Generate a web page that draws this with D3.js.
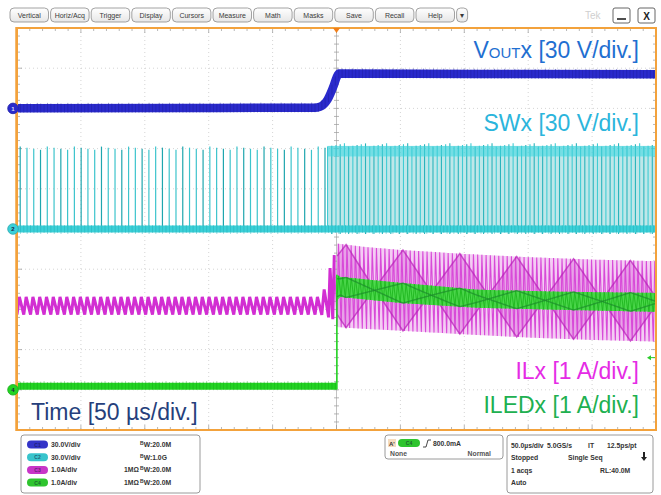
<!DOCTYPE html>
<html><head><meta charset="utf-8">
<script src="https://cdn.jsdelivr.net/npm/d3@7"></script>
<style>body{margin:0;background:#fff;} svg{display:block;font-family:"Liberation Sans",Arial,sans-serif;}</style>
</head><body><svg id="c" width="661" height="495"></svg>
<script>
// ---------------- DATA ----------------
const menuItems = ["Vertical","Horiz/Acq","Trigger","Display","Cursors","Measure","Math","Masks","Save","Recall","Help","\u25BE"];
const timeRange = [-250, 250];            // µs (50 µs/div, 10 div)
const divRange = [-5, 5];                 // vertical divisions
const channelIds = ["C1","C2","C3","C4"];
const channelOffsets = [3, 0, -4, -4];    // div
const channelScales = [30, 30, 1, 1];     // V/div, V/div, A/div, A/div
const channelScaleLabels = ["30.0V/div","30.0V/div","1.0A/div","1.0A/div"];
const channelImpedance = ["","","1M\u03A9","1M\u03A9"];
const channelBandwidth = ["20.0M","1.0G","20.0M","20.0M"];
// VOUTx (V)
const voutT = [-250, -120, -17, -13, -10, -7, -4.5, -2, 0, 1.8, 60, 150, 250];
const voutV = [0.2, 0.3, 0.5, 1.2, 3.0, 6.5, 11.5, 17.5, 23.0, 26.0, 25.9, 25.6, 25.4];
// SWx (V)
const swPeriodPre = 5.3;     // µs
const swPeriodPost = 3.3;    // µs
const swDenseStart = -7;     // µs
const swPeak = 61.5;         // V
const swPostTopBand = [62, 54]; // V
// ILx (A)
const ilxEnvT  = [-250, -12, -9, -6, -3, -0.5, 0.5, 20, 50, 100, 150, 200, 250];
const ilxEnvHi = [2.31, 2.31, 2.55, 2.95, 3.2, 3.5, 3.64, 3.56, 3.48, 3.38, 3.3, 3.24, 3.2];
const ilxEnvLo = [1.87, 1.87, 1.83, 1.8, 1.76, 1.72, 1.56, 1.52, 1.47, 1.38, 1.3, 1.24, 1.2];
// beat (alias) pattern vertices: time and fraction of envelope
const beatT    = [0.5, 7.5, 52, 96.5, 141, 185.5, 230, 250];
const beatFrac = [0.15, 0.0, 1.0, 0.0, 1.0, 0.0, 1.0, 0.55];
// ILEDx (A)
const iledPre = 0.09;
const iledEdgeT = 0.3;
const iledEnvT  = [0.3, 3, 50, 110, 175, 250];
const iledEnvHi = [2.86, 2.81, 2.66, 2.49, 2.44, 2.41];
const iledEnvLo = [2.22, 2.31, 2.16, 2.04, 1.99, 1.94];
const triggerLevel = 0.8; // A on C4
// texts
const labelTexts = {vout:["V","OUT","x [30 V/div.]"], sw:"SWx [30 V/div.]", ilx:"ILx [1 A/div.]", iled:"ILEDx [1 A/div.]", time:"Time [50 \u00B5s/div.]"};
const horizRows = [["50.0\u00B5s/div","5.0GS/s","IT","12.5ps/pt"],["Stopped","Single Seq"],["1 acqs","RL:40.0M"],["Auto"]];
const triggerTexts = ["800.0mA","None","Normal"];

// ---------------- LAYOUT ----------------
const svg = d3.select("#c");
const X0=17, X1=656, Y0=28, Y1=430;
const x = d3.scaleLinear().domain(timeRange).range([X0, X1]);
const yDiv = d3.scaleLinear().domain(divRange).range([Y1, Y0]);
const yCh = (ci, v) => yDiv(v / channelScales[ci] + channelOffsets[ci]);
const colors = {c1:"#2a2acc", c2:"#3ad0d8", c3:"#d22ed2", c4:"#22d422", orange:"#f3a23c"};

const defs = svg.append("defs");
const g1 = defs.append("linearGradient").attr("id","btn").attr("x1",0).attr("x2",0).attr("y1",0).attr("y2",1);
g1.append("stop").attr("offset","0").attr("stop-color","#ffffff");
g1.append("stop").attr("offset","1").attr("stop-color","#e6e6e6");
defs.append("clipPath").attr("id","plotclip").append("rect").attr("x",X0+1).attr("y",Y0+1).attr("width",X1-X0-2).attr("height",Y1-Y0-2);

// toolbar
const tb = svg.append("g");
menuItems.forEach((m,i)=>{
  const last = i===menuItems.length-1;
  const bx = 10 + i*40.6, bw = last ? 11 : 38.5;
  tb.append("rect").attr("x",bx).attr("y",8).attr("width",bw).attr("height",14).attr("rx",4)
    .attr("fill","url(#btn)").attr("stroke","#8c8c8c").attr("stroke-width",0.8);
  tb.append("text").attr("x",bx+bw/2).attr("y",17.6).attr("text-anchor","middle")
    .attr("font-size", last?8:7).attr("fill","#3a3a3a").text(m);
});
tb.append("text").attr("x",585).attr("y",19).attr("font-size",10).attr("fill","#cfcfcf").text("Tek");
tb.append("rect").attr("x",613).attr("y",8).attr("width",17).attr("height",15).attr("rx",2).attr("fill","#fff").attr("stroke","#555").attr("stroke-width",0.9);
tb.append("line").attr("x1",617).attr("x2",626).attr("y1",19).attr("y2",19).attr("stroke","#222").attr("stroke-width",1.6);
tb.append("rect").attr("x",638).attr("y",8).attr("width",17).attr("height",15).attr("rx",2).attr("fill","#fff").attr("stroke","#555").attr("stroke-width",0.9);
tb.append("text").attr("x",646.5).attr("y",19.5).attr("text-anchor","middle").attr("font-size",10).attr("font-weight","bold").attr("fill","#222").text("X");

// plot frame & grid
svg.append("rect").attr("x",X0).attr("y",Y0).attr("width",X1-X0).attr("height",Y1-Y0).attr("fill","#fff");
const grid = svg.append("g");
const dx = (X1-X0)/10, dy = (Y1-Y0)/10;
for(let k=1;k<10;k++){
  if(k!==5){
    grid.append("line").attr("x1",X0+k*dx).attr("x2",X0+k*dx).attr("y1",Y0).attr("y2",Y1)
      .attr("stroke","#c9c9c9").attr("stroke-width",0.8).attr("stroke-dasharray","1,3");
    grid.append("line").attr("y1",Y0+k*dy).attr("y2",Y0+k*dy).attr("x1",X0).attr("x2",X1)
      .attr("stroke","#c9c9c9").attr("stroke-width",0.8).attr("stroke-dasharray","1,3");
  }
}
grid.append("line").attr("x1",X0+5*dx).attr("x2",X0+5*dx).attr("y1",Y0).attr("y2",Y1).attr("stroke","#a8a8a8").attr("stroke-width",0.7);
grid.append("line").attr("y1",Y0+5*dy).attr("y2",Y0+5*dy).attr("x1",X0).attr("x2",X1).attr("stroke","#a8a8a8").attr("stroke-width",0.7);
for(let k=1;k<50;k++){
  const xx = X0 + k*dx/5, major = k%5===0;
  const L = major?5:3;
  grid.append("line").attr("x1",xx).attr("x2",xx).attr("y1",Y0).attr("y2",Y0+L).attr("stroke","#999").attr("stroke-width",0.7);
  grid.append("line").attr("x1",xx).attr("x2",xx).attr("y1",Y1).attr("y2",Y1-L).attr("stroke","#999").attr("stroke-width",0.7);
  grid.append("line").attr("x1",xx).attr("x2",xx).attr("y1",Y0+5*dy-2.5).attr("y2",Y0+5*dy+2.5).attr("stroke","#999").attr("stroke-width",0.7);
  const yy = Y0 + k*dy/5;
  grid.append("line").attr("y1",yy).attr("y2",yy).attr("x1",X0).attr("x2",X0+L).attr("stroke","#999").attr("stroke-width",0.7);
  grid.append("line").attr("y1",yy).attr("y2",yy).attr("x1",X1).attr("x2",X1-L).attr("stroke","#999").attr("stroke-width",0.7);
  grid.append("line").attr("y1",yy).attr("y2",yy).attr("x1",X0+5*dx-2.5).attr("x2",X0+5*dx+2.5).attr("stroke","#999").attr("stroke-width",0.7);
}

// ---------------- TRACES ----------------
const tr = svg.append("g").attr("clip-path","url(#plotclip)");
const env = (ts, vs) => d3.scaleLinear().domain(ts).range(vs).clamp(true);
const lineTV = (ci) => d3.line().x(d=>x(d[0])).y(d=>yCh(ci,d[1]));

// C1 VOUT
const voutPts = voutT.map((t,i)=>[t, voutV[i]]);
tr.append("path").datum(voutPts).attr("d", d3.line().x(d=>x(d[0])).y(d=>yCh(0,d[1])).curve(d3.curveMonotoneX))
  .attr("fill","none").attr("stroke",colors.c1).attr("stroke-width",8.5);
const voutF = env(voutT, voutV);
d3.range(timeRange[0], timeRange[1], swPeriodPre/2).forEach((t,i)=>{
  tr.append("line").attr("x1",x(t)).attr("x2",x(t)).attr("y1",yCh(0,voutF(t))-5.2+(i%3)*0.6).attr("y2",yCh(0,voutF(t))+4.6)
    .attr("stroke","#1d1d9a").attr("stroke-width",0.8).attr("opacity",0.55);
});

// C2 SW
const swBase = yCh(1,0);
tr.append("rect").attr("x",x(swDenseStart)).attr("width",x(timeRange[1])-x(swDenseStart))
  .attr("y",yCh(1,swPostTopBand[1])).attr("height",swBase-yCh(1,swPostTopBand[1])).attr("fill","#bfe7e9");
d3.range(timeRange[0]+2.5, swDenseStart, swPeriodPre).forEach((t,i)=>{
  tr.append("line").attr("x1",x(t)).attr("x2",x(t)).attr("y1",swBase).attr("y2",yCh(1,swPeak - (i%4)*0.8))
    .attr("stroke", i%3===0?"#1fa6ae":"#3cc4cc").attr("stroke-width",1.2);
});
d3.range(swDenseStart, timeRange[1], swPeriodPost).forEach((t,i)=>{
  tr.append("line").attr("x1",x(t)).attr("x2",x(t)).attr("y1",swBase+ (i%2?5:3)).attr("y2",yCh(1,swPeak + (i%5)*0.6))
    .attr("stroke", i%2?"#2ab4bc":"#40ccd4").attr("stroke-width",1.1);
});
tr.append("rect").attr("x",x(swDenseStart)).attr("width",x(timeRange[1])-x(swDenseStart))
  .attr("y",yCh(1,swPostTopBand[0])).attr("height",yCh(1,swPostTopBand[1])-yCh(1,swPostTopBand[0])).attr("fill",colors.c2).attr("opacity",0.7);
tr.append("line").attr("x1",X0).attr("x2",X1).attr("y1",swBase).attr("y2",swBase).attr("stroke",colors.c2).attr("stroke-width",7);
d3.range(timeRange[0], timeRange[1], swPeriodPre/2).forEach((t,i)=>{
  tr.append("line").attr("x1",x(t)).attr("x2",x(t)).attr("y1",swBase-4).attr("y2",swBase+4+(i%2)).attr("stroke","#22a8b0").attr("stroke-width",0.7).attr("opacity",0.6);
});

// C3 ILx
const ilHi = env(ilxEnvT, ilxEnvHi), ilLo = env(ilxEnvT, ilxEnvLo);
const postT = d3.range(0.5, timeRange[1]+0.5, 0.5);
tr.append("path").datum(postT).attr("d", d3.area().x(t=>x(t)).y0(t=>yCh(2,ilLo(t))).y1(t=>yCh(2,ilHi(t))))
  .attr("fill","#f4cdf4");
const beatA = env(beatT, beatFrac);
const beatY = (ci, hiF, loF, f) => (t) => yCh(ci, loF(t) + (hiF(t)-loF(t))*f(t));
tr.append("path").datum(postT).attr("d", d3.area().x(t=>x(t))
   .y0(beatY(2, ilHi, ilLo, beatA)).y1(beatY(2, ilHi, ilLo, t=>1-beatA(t))))
  .attr("fill","#df86df").attr("opacity",0.6);
const ilPts = [];
{ let t = timeRange[0];
  while(t < timeRange[1]){
    const P = t < swDenseStart ? swPeriodPre : swPeriodPost;
    ilPts.push([t, ilLo(t)]); ilPts.push([t+0.35*P, ilHi(t+0.35*P)]);
    t += P;
  }}
tr.append("path").datum(ilPts.filter(d=>d[0]>-2)).attr("d", lineTV(2)).attr("fill","none").attr("stroke","#d84ad8").attr("stroke-width",1.1);
tr.append("path").datum(ilPts.filter(d=>d[0]<-1)).attr("d", lineTV(2)).attr("fill","none").attr("stroke",colors.c3).attr("stroke-width",3);
[beatA, t=>1-beatA(t)].forEach(f=>{
  tr.append("path").datum(postT).attr("d", d3.line().x(t=>x(t)).y(beatY(2, ilHi, ilLo, f)))
    .attr("fill","none").attr("stroke","#b81fb8").attr("stroke-width",1.5).attr("opacity",0.7);
});

// C4 ILED
const ldHi = env(iledEnvT, iledEnvHi), ldLo = env(iledEnvT, iledEnvLo);
tr.append("line").attr("x1",X0).attr("x2",x(iledEdgeT)).attr("y1",yCh(3,iledPre)).attr("y2",yCh(3,iledPre))
  .attr("stroke",colors.c4).attr("stroke-width",7);
d3.range(timeRange[0], iledEdgeT, swPeriodPre/2).forEach((t,i)=>{
  tr.append("line").attr("x1",x(t)).attr("x2",x(t)).attr("y1",yCh(3,iledPre)-4-(i%3)*0.5).attr("y2",yCh(3,iledPre)+3.5)
    .attr("stroke","#18a018").attr("stroke-width",0.7).attr("opacity",0.6);
});
tr.append("line").attr("x1",x(iledEdgeT)).attr("x2",x(iledEdgeT)).attr("y1",yCh(3,iledPre)+3).attr("y2",yCh(3,ldHi(iledEdgeT)))
  .attr("stroke",colors.c4).attr("stroke-width",1.6);
const ledT = d3.range(iledEdgeT, timeRange[1]+0.5, 0.5);
tr.append("path").datum(ledT).attr("d", d3.area().x(t=>x(t)).y0(t=>yCh(3,ldLo(t))).y1(t=>yCh(3,ldHi(t))))
  .attr("fill","#3cdc3c").attr("opacity",0.92);
const ldPts = [];
d3.range(iledEdgeT, timeRange[1], swPeriodPost).forEach(t=>{ ldPts.push([t, ldLo(t)]); ldPts.push([t+0.4*swPeriodPost, ldHi(t+0.4*swPeriodPost)]); });
tr.append("path").datum(ldPts).attr("d", lineTV(3)).attr("fill","none").attr("stroke","#1fb81f").attr("stroke-width",0.9);
[beatA, t=>1-beatA(t)].forEach(f=>{
  tr.append("path").datum(ledT).attr("d", d3.line().x(t=>x(t)).y(beatY(3, ldHi, ldLo, f)))
    .attr("fill","none").attr("stroke","#1c8c2c").attr("stroke-width",1.4).attr("opacity",0.7);
});

// frame on top
svg.append("rect").attr("x",X0).attr("y",Y0).attr("width",X1-X0).attr("height",Y1-Y0)
  .attr("fill","none").attr("stroke",colors.orange).attr("stroke-width",2);
svg.append("line").attr("x1",X0-0.5).attr("x2",X0-0.5).attr("y1",Y0-1).attr("y2",Y1+1).attr("stroke",colors.orange).attr("stroke-width",2.5);

// trigger position marker
svg.append("path").attr("d",`M${x(0)-3.5},${Y0} L${x(0)+3.5},${Y0} L${x(0)},${Y0+5} Z`).attr("fill","#f07f1a");
// trigger level marker
const tly = yCh(3, triggerLevel);
svg.append("path").attr("d",`M${X1-9},${tly} L${X1-5},${tly-2.5} L${X1-5},${tly+2.5} Z`).attr("fill","#2ccc2c");
svg.append("line").attr("x1",X1-5).attr("x2",X1-1).attr("y1",tly).attr("y2",tly).attr("stroke","#2ccc2c").attr("stroke-width",1);

// channel markers
[[0,colors.c1,"1"],[1,colors.c2,"2"],[3,colors.c4,"4"]].forEach(([ci,c,lab])=>{
  const yy = yCh(ci,0);
  svg.append("circle").attr("cx",13).attr("cy",yy).attr("r",5.3).attr("fill",c).attr("stroke",d3.color(c).darker(0.6)).attr("stroke-width",0.8);
  svg.append("text").attr("x",13).attr("y",yy+2.2).attr("text-anchor","middle").attr("font-size",6).attr("font-weight","bold").attr("fill", ci===0?"#dde":"#224").text(lab);
});

// ---------------- LABELS ----------------
const lab = svg.append("g").attr("font-size",23);
const vt = lab.append("text").attr("x",639).attr("y",58).attr("text-anchor","end").attr("fill","#1f6fd1");
vt.append("tspan").text(labelTexts.vout[0]);
vt.append("tspan").attr("font-size",15).text(labelTexts.vout[1]);
vt.append("tspan").text(labelTexts.vout[2]);
lab.append("text").attr("x",639).attr("y",131).attr("text-anchor","end").attr("fill","#2bb5dc").text(labelTexts.sw);
lab.append("text").attr("x",639).attr("y",379).attr("text-anchor","end").attr("fill","#e52be5").text(labelTexts.ilx);
lab.append("text").attr("x",639).attr("y",413).attr("text-anchor","end").attr("fill","#20b050").text(labelTexts.iled);
lab.append("text").attr("x",31).attr("y",420).attr("fill","#263f7c").text(labelTexts.time);

// ---------------- INFO BAR ----------------
const info = svg.append("g").attr("font-size",6.8).attr("font-weight","bold").attr("fill","#333");
info.append("rect").attr("x",21).attr("y",435).attr("width",179).attr("height",58).attr("rx",3).attr("fill","#fff").attr("stroke","#9a9a9a").attr("stroke-width",1);
const pillColors = ["#3434c8","#38c4cc","#c835c8","#2ec42e"];
channelIds.forEach((id,i)=>{
  const yy = 444.5 + i*12.7;
  info.append("rect").attr("x",27).attr("y",yy-4).attr("width",21).attr("height",8).attr("rx",4).attr("fill",pillColors[i]);
  info.append("text").attr("x",37.5).attr("y",yy+2).attr("text-anchor","middle").attr("font-size",5).attr("fill", "#113").attr("opacity",0.55).text(id);
  info.append("text").attr("x",51).attr("y",yy+2.4).text(channelScaleLabels[i]);
  if(channelImpedance[i]) info.append("text").attr("x",124).attr("y",yy+2.4).text(channelImpedance[i]);
  const bt = info.append("text").attr("x",140).attr("y",yy+2.4);
  bt.append("tspan").attr("font-size",5).attr("dy",-2).text("B");
  bt.append("tspan").attr("font-size",6.8).attr("dy",2).text("W");
  bt.append("tspan").text(":"+channelBandwidth[i]);
});
info.append("rect").attr("x",385).attr("y",435).attr("width",118).attr("height",24).attr("rx",3).attr("fill","#fff").attr("stroke","#9a9a9a").attr("stroke-width",1);
info.append("rect").attr("x",388).attr("y",439).attr("width",8).attr("height",8).attr("fill","#f4dcc0");
info.append("text").attr("x",389).attr("y",445.5).attr("font-size",6).text("A'");
info.append("rect").attr("x",398).attr("y",439).attr("width",22).attr("height",8).attr("rx",4).attr("fill","#2ec42e");
info.append("text").attr("x",409).attr("y",445.2).attr("text-anchor","middle").attr("font-size",5).attr("fill","#113").attr("opacity",0.55).text("C4");
info.append("path").attr("d","M423,447 L426,447 L428,440 L431,440").attr("fill","none").attr("stroke","#333").attr("stroke-width",0.9);
info.append("text").attr("x",433).attr("y",445.6).text(triggerTexts[0]);
info.append("text").attr("x",390).attr("y",456).attr("fill","#555").text(triggerTexts[1]);
info.append("text").attr("x",491).attr("y",456).attr("text-anchor","end").attr("fill","#555").text(triggerTexts[2]);

info.append("rect").attr("x",507).attr("y",435).attr("width",146).attr("height",58).attr("rx",3).attr("fill","#fff").attr("stroke","#9a9a9a").attr("stroke-width",1);
const hx = [[511,547,588,607],[511,568],[511,600],[511]];
horizRows.forEach((row,r)=>{
  row.forEach((s,j)=>{ info.append("text").attr("x",hx[r][j]).attr("y",447.5+r*12.6).text(s); });
});
info.append("rect").attr("x",643).attr("y",452).attr("width",2).attr("height",6).attr("fill","#222");
info.append("path").attr("d","M641,457 L647,457 L644,461 Z").attr("fill","#222");
</script></body></html>
